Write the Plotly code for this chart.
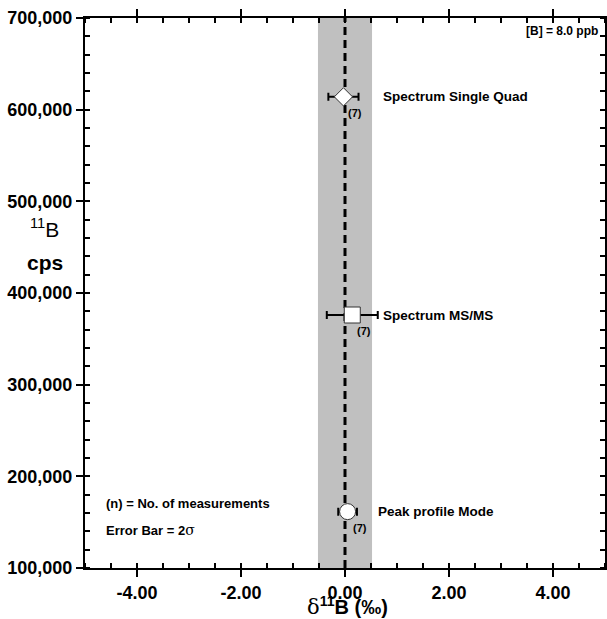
import plotly.graph_objects as go

labels = ["Spectrum Single Quad", "Spectrum MS/MS", "Peak profile Mode"]
delta = [-0.03, 0.14, 0.05]
cps = [614000, 376000, 161500]
err2s = [0.29, 0.49, 0.18]
n_meas = [7, 7, 7]
symbols = ["diamond", "square", "circle"]
sizes = [14, 16, 16]
label_x = [0.69, 0.69, 0.59]
band = [-0.52, 0.52]

FONT = "Liberation Sans, Arial, sans-serif"

fig = go.Figure()

fig.add_shape(type="rect", x0=band[0], x1=band[1], y0=100000, y1=700000,
              xref="x", yref="y", fillcolor="#c0c0c0", line_width=0, layer="below")
fig.add_shape(type="line", x0=0, x1=0, y0=100000, y1=700000, xref="x", yref="y",
              line=dict(color="black", width=3, dash="8px,5px"), layer="below")

for i in range(len(labels)):
    fig.add_trace(go.Scatter(
        x=[delta[i]], y=[cps[i]], mode="markers",
        marker=dict(symbol=symbols[i], size=sizes[i], color="white",
                    line=dict(color="#333333", width=1)),
        error_x=dict(type="data", array=[err2s[i]], color="black", thickness=2, width=4),
        showlegend=False, cliponaxis=False))
    fig.add_annotation(x=label_x[i], y=cps[i], xref="x", yref="y", text="<b>%s</b>" % labels[i],
                       showarrow=False, xanchor="left", yanchor="middle",
                       font=dict(family=FONT, size=13.5, color="black"))
    fig.add_annotation(x=delta[i], y=cps[i], xref="x", yref="y", text="<b>(%d)</b>" % n_meas[i],
                       showarrow=False, xanchor="left", yanchor="middle", xshift=3, yshift=-16,
                       font=dict(family=FONT, size=11, color="black"))

fig.add_annotation(x=0.99, y=0.977, xref="paper", yref="paper", text="<b>[B] = 8.0 ppb</b>",
                   showarrow=False, xanchor="right", yanchor="middle",
                   font=dict(family=FONT, size=12, color="black"))
fig.add_annotation(x=-4.63, y=170000, xref="x", yref="y", text="<b>(n) = No. of measurements</b>",
                   showarrow=False, xanchor="left", yanchor="middle",
                   font=dict(family=FONT, size=13, color="black"))
fig.add_annotation(x=-4.63, y=141500, xref="x", yref="y",
                   text="<b>Error Bar = 2</b><span style='font-family:DejaVu Serif;font-size:14px'>σ</span>",
                   showarrow=False, xanchor="left", yanchor="middle",
                   font=dict(family=FONT, size=13, color="black"))

# axis titles
fig.add_annotation(x=-0.077, y=0.618, xref="paper", yref="paper", text="<sup>11</sup>B",
                   showarrow=False, xanchor="center", yanchor="middle",
                   font=dict(family=FONT, size=21, color="black"))
fig.add_annotation(x=-0.077, y=0.555, xref="paper", yref="paper", text="<b>cps</b>",
                   showarrow=False, xanchor="center", yanchor="middle",
                   font=dict(family=FONT, size=21, color="black"))
fig.add_annotation(x=0.505, y=-0.069, xref="paper", yref="paper",
                   text="<span style='font-family:DejaVu Serif;font-size:21px'>δ</span><b><sup>11</sup>B (‰)</b>",
                   showarrow=False, xanchor="center", yanchor="middle",
                   font=dict(family=FONT, size=20, color="black"))

axis_common = dict(showgrid=False, zeroline=False, showline=True, linecolor="black", linewidth=2,
                   tickcolor="black", tickwidth=2, ticklen=7, ticks="outside", mirror="allticks",
                   automargin=False,
                   tickfont=dict(family=FONT, size=18, color="black"))

fig.update_xaxes(range=[-5, 5], tickvals=[-4, -2, 0, 2, 4],
                 ticktext=["<b>-4.00</b>", "<b>-2.00</b>", "<b>0.00</b>", "<b>2.00</b>", "<b>4.00</b>"],
                 minor=dict(dtick=0.5, tick0=0, ticks="inside", ticklen=5, tickwidth=1.5, tickcolor="black"),
                 **axis_common)
fig.update_yaxes(range=[100000, 700000],
                 tickvals=[100000, 200000, 300000, 400000, 500000, 600000, 700000],
                 ticktext=["<b>%s</b>" % f"{v:,}" for v in [100000, 200000, 300000, 400000, 500000, 600000, 700000]],
                 minor=dict(dtick=20000, tick0=0, ticks="inside", ticklen=5, tickwidth=1.5, tickcolor="black"),
                 **axis_common)

fig.update_layout(width=607, height=619, margin=dict(l=85, r=2, t=18, b=51),
                  plot_bgcolor="white", paper_bgcolor="white", showlegend=False)

fig.write_html("out.html")
